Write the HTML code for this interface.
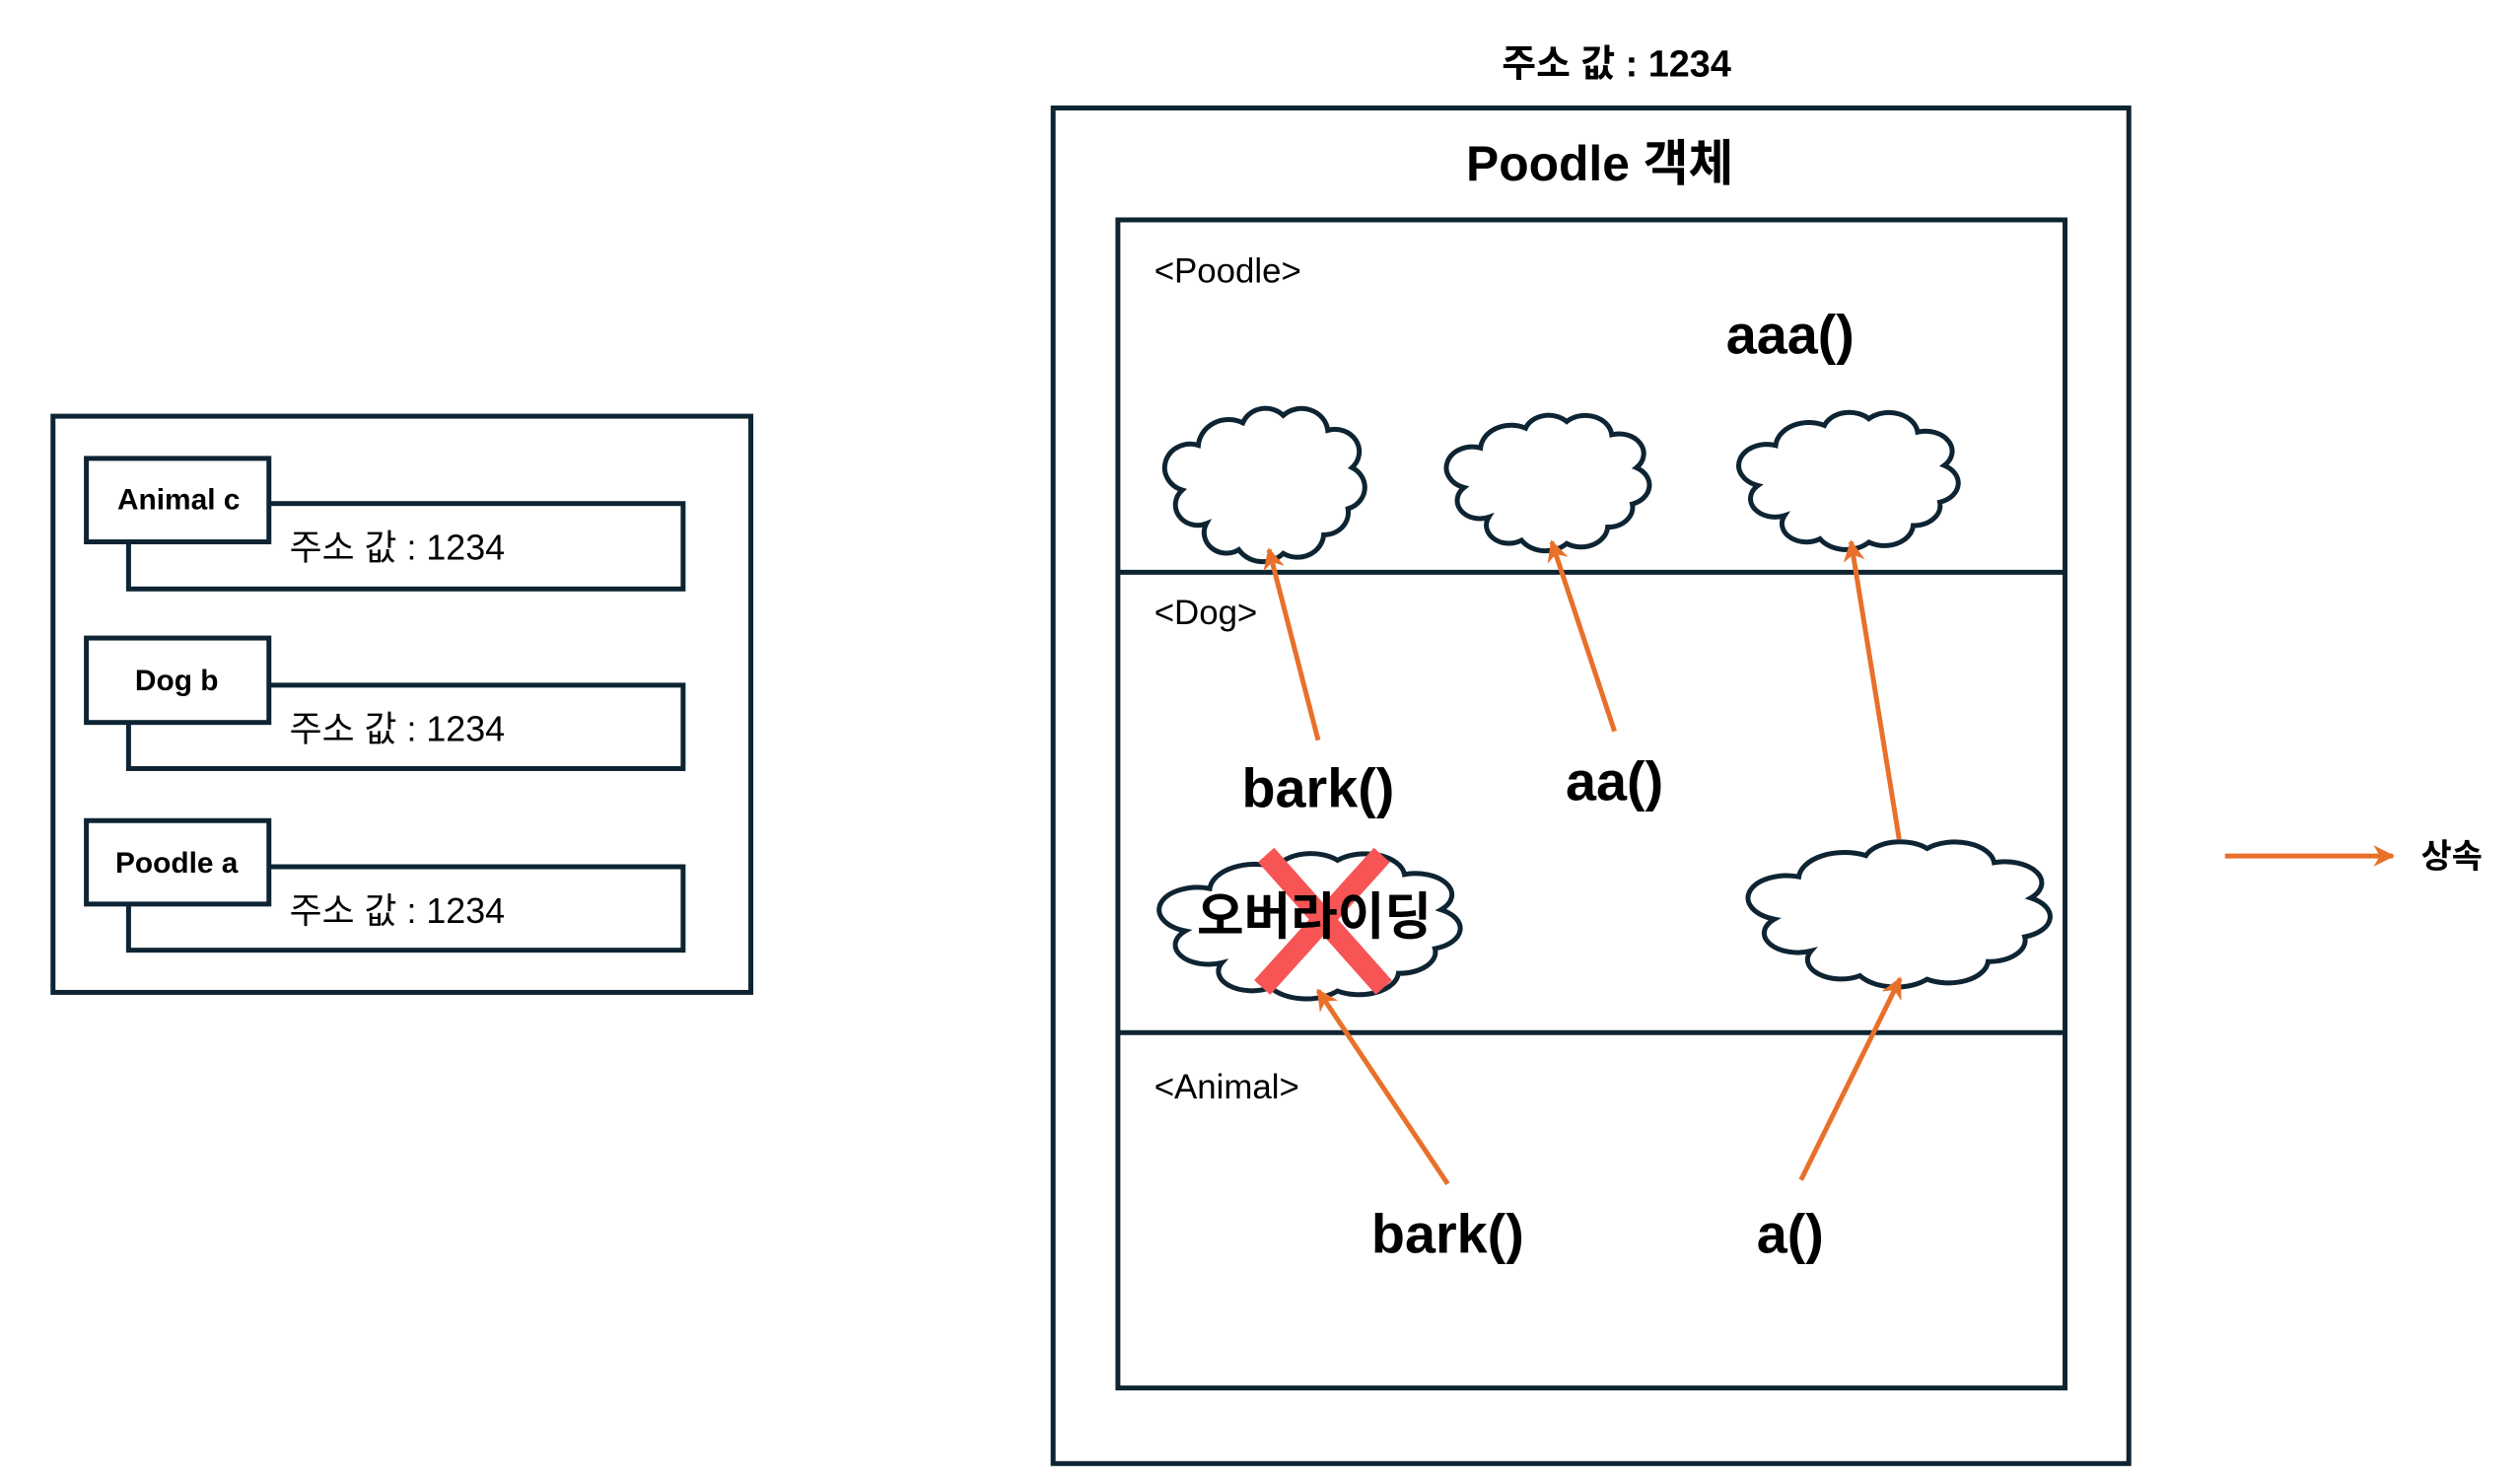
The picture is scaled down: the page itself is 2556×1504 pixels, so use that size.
<!DOCTYPE html>
<html><head><meta charset="utf-8"><style>
html,body{margin:0;padding:0;background:#fff;}
svg{display:block}
text{font-family:"Liberation Sans","Noto Sans CJK KR",sans-serif;}
</style></head><body>
<svg width="2556" height="1504" viewBox="0 0 2556 1504" xmlns="http://www.w3.org/2000/svg">
<defs>
<path id="cl" d="M20,66 A11,11 0 0 1 8,48 A12,12 0 0 1 16,24 A15,15 0 0 1 38,12 A12,12 0 0 1 58,8 A13,13 0 0 1 80,16 A12,12 0 0 1 92,36 A12,12 0 0 1 90,58 A12,12 0 0 1 78,72 A13,13 0 0 1 58,82 A14,14 0 0 1 36,80 A11,11 0 0 1 20,66 Z" fill="#fff" stroke="#0e2433" stroke-width="5" vector-effect="non-scaling-stroke"/>
<marker id="ah2" viewBox="0 0 10 10" refX="9" refY="5" markerWidth="22" markerHeight="22" markerUnits="userSpaceOnUse" orient="auto"><path d="M0,0 L10,5 L0,10 L3,5 Z" fill="#e8702a"/></marker>
</defs>
<g transform="scale(0.9955)">
<g fill="none" stroke="#0e2433" stroke-width="5">
<rect x="54" y="424" width="711" height="587" fill="#fff"/>
<rect x="131" y="513" width="565" height="87" fill="#fff"/>
<rect x="88" y="467" width="186" height="85" fill="#fff"/>
<rect x="131" y="698" width="565" height="85" fill="#fff"/>
<rect x="88" y="650" width="186" height="86" fill="#fff"/>
<rect x="131" y="883" width="565" height="85" fill="#fff"/>
<rect x="88" y="836" width="186" height="85" fill="#fff"/>
<rect x="1073" y="110" width="1096" height="1381"/>
<rect x="1139" y="224" width="965" height="1190"/>
<line x1="1139" y1="583" x2="2104" y2="583"/>
<line x1="1139" y1="1052" x2="2104" y2="1052"/>
</g>
<g font-weight="bold" font-size="30" text-anchor="middle" fill="#000">
<text x="182" y="519">Animal c</text>
<text x="180" y="703">Dog b</text>
<text x="180" y="889">Poodle a</text>
</g>
<g font-size="36" fill="#000">
<text x="295" y="570">주소 값 : 1234</text>
<text x="295" y="755">주소 값 : 1234</text>
<text x="295" y="940">주소 값 : 1234</text>
</g>
<text x="1647" y="78" font-size="38" font-weight="bold" text-anchor="middle">주소 값 : 1234</text>
<text x="1630" y="184" font-size="50" font-weight="bold" text-anchor="middle">Poodle 객체</text>
<g font-size="35" fill="#000">
<text x="1176" y="288">&lt;Poodle&gt;</text>
<text x="1176" y="636">&lt;Dog&gt;</text>
<text x="1176" y="1119">&lt;Animal&gt;</text>
</g>
<use href="#cl" transform="translate(1188,408) scale(2.06,1.9)"/>
<use href="#cl" transform="translate(1475,416) scale(2.09,1.68)"/>
<use href="#cl" transform="translate(1773,413) scale(2.26,1.7)"/>
<use href="#cl" transform="translate(1183,862) scale(3.1,1.8)"/>
<use href="#cl" transform="translate(1783,850) scale(3.11,1.8)"/>
<g stroke="#f75555" stroke-width="22">
<line x1="1290" y1="871" x2="1410" y2="1006"/>
<line x1="1408" y1="871" x2="1286" y2="1006"/>
</g>
<g font-size="56" font-weight="bold" text-anchor="middle" fill="#000">
<text x="1824" y="360">aaa()</text>
<text x="1343" y="822">bark()</text>
<text x="1645" y="815">aa()</text>
<text x="1475" y="1276">bark()</text>
<text x="1824" y="1276">a()</text>
<text x="1339" y="952" font-size="52">오버라이딩</text>
</g>
<g stroke="#e8702a" stroke-width="5" marker-end="url(#ah2)">
<line x1="1343" y1="754" x2="1293" y2="560"/>
<line x1="1645" y1="745" x2="1581" y2="552"/>
<line x1="1935" y1="855" x2="1886" y2="552"/>
<line x1="1475" y1="1206" x2="1343" y2="1009"/>
<line x1="1835" y1="1202" x2="1936" y2="997"/>
<line x1="2267" y1="872" x2="2438" y2="872"/>
</g>
<text x="2498" y="884" font-size="34" font-weight="bold" text-anchor="middle">상속</text>
</g>
</svg>
</body></html>
